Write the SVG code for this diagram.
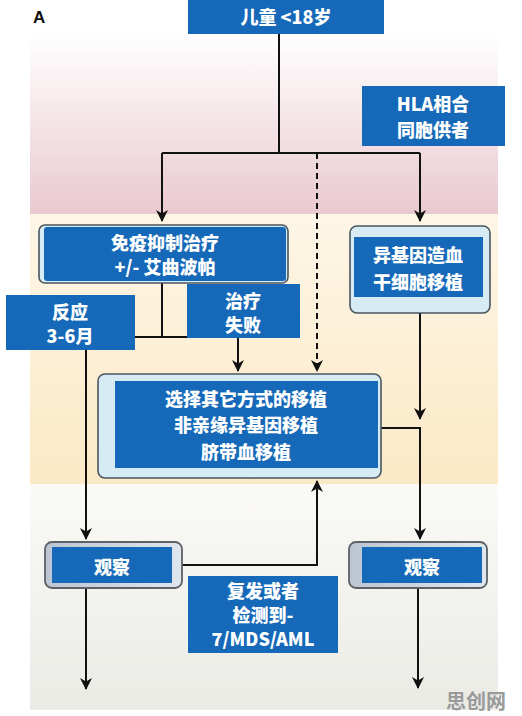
<svg xmlns="http://www.w3.org/2000/svg" width="522" height="716" viewBox="0 0 522 716">
<defs>
<linearGradient id="gTop" x1="0" y1="0" x2="0" y2="1">
<stop offset="0" stop-color="#ffffff"/>
<stop offset="1" stop-color="#e9c9cf"/>
</linearGradient>
<linearGradient id="gMid" x1="0" y1="0" x2="0" y2="1">
<stop offset="0" stop-color="#fdf6e6"/>
<stop offset="1" stop-color="#fbe9c6"/>
</linearGradient>
<linearGradient id="gBot" x1="0" y1="0" x2="0" y2="1">
<stop offset="0" stop-color="#fbfaf6"/>
<stop offset="1" stop-color="#ebebe6"/>
</linearGradient>
<linearGradient id="gObs" x1="0" y1="0" x2="1" y2="0">
<stop offset="0" stop-color="#bcc6d2"/>
<stop offset="1" stop-color="#dfe6ee"/>
</linearGradient>
<marker id="arrL" viewBox="0 0 12 12" refX="11" refY="6" markerWidth="12" markerHeight="12" markerUnits="userSpaceOnUse" orient="auto">
<path d="M0,0 L12,6 L0,12 L3.5,6 Z" fill="#111"/>
</marker>
</defs>
<style>
.blue{fill:#1669b8;}
.outer{fill:#d7ebf5;stroke:#4a5560;stroke-width:1.6;}
.obs{fill:url(#gObs);stroke:#5d6168;stroke-width:1.8;}
.t{font-family:"Noto Sans CJK SC","Noto Sans",sans-serif;font-weight:900;font-size:18px;fill:#ffffff;text-anchor:middle;dominant-baseline:central;}
.ln{fill:none;stroke:#111;stroke-width:2;}
</style>
<rect x="0" y="0" width="522" height="716" fill="#ffffff"/>
<rect x="30" y="34" width="468" height="180" fill="url(#gTop)"/>
<rect x="30" y="214" width="468" height="270" fill="url(#gMid)"/>
<rect x="30" y="484" width="468" height="226" fill="url(#gBot)"/>
<text x="33" y="17" font-family="Liberation Sans,Arial,sans-serif" font-weight="bold" font-size="17" fill="#111" dominant-baseline="central">A</text>

<g id="connectors">
<polyline class="ln" points="279,34 279,153"/>
<polyline class="ln" points="162,153 420,153"/>
<line class="ln" x1="162" y1="153" x2="162" y2="221" marker-end="url(#arrL)"/>
<line class="ln" x1="420" y1="153" x2="420" y2="221" marker-end="url(#arrL)"/>
<line class="ln" x1="317" y1="153" x2="317" y2="371" stroke-dasharray="6,4" marker-end="url(#arrL)"/>
<polyline class="ln" points="162,283 162,337"/>
<polyline class="ln" points="135,337 187,337"/>
<line class="ln" x1="238" y1="338" x2="238" y2="371" marker-end="url(#arrL)"/>
<line class="ln" x1="86" y1="350" x2="86" y2="539" marker-end="url(#arrL)"/>
<line class="ln" x1="420" y1="313" x2="420" y2="419" marker-end="url(#arrL)"/>
<polyline class="ln" points="381,428 420,428 420,539" marker-end="url(#arrL)"/>
<polyline class="ln" points="182,565 317,565 317,481" stroke="#333" marker-end="url(#arrL)"/>
<line class="ln" x1="86" y1="588" x2="86" y2="689" marker-end="url(#arrL)"/>
<line class="ln" x1="418" y1="588" x2="418" y2="688" marker-end="url(#arrL)"/>
</g>

<g id="node-child">
<rect class="blue" x="188" y="0" width="196" height="34"/>
<text class="t" x="286" y="16" font-size="20">儿童 &lt;18岁</text>
</g>

<g id="node-hla">
<rect class="blue" x="362" y="86" width="143" height="60"/>
<text class="t" x="433" y="103">HLA相合</text>
<text class="t" x="433" y="129">同胞供者</text>
</g>

<g id="node-ist">
<rect class="outer" x="39" y="225" width="249" height="58" rx="6"/>
<rect class="blue" x="44" y="227" width="242" height="54" rx="3"/>
<text class="t" x="165" y="242">免疫抑制治疗</text>
<text class="t" x="165" y="266">+/- 艾曲波帕</text>
</g>

<g id="node-hsct">
<rect class="outer" x="350" y="226" width="140" height="87" rx="7"/>
<rect class="blue" x="354" y="237" width="129" height="60"/>
<text class="t" x="418" y="254" font-size="20">异基因造血</text>
<text class="t" x="418" y="281" font-size="20">干细胞移植</text>
</g>

<g id="node-response">
<rect class="blue" x="6" y="295" width="129" height="55"/>
<text class="t" x="70" y="311">反应</text>
<text class="t" x="70" y="335">3-6月</text>
</g>

<g id="node-failure">
<rect class="blue" x="187" y="284" width="113" height="54"/>
<text class="t" x="243" y="300">治疗</text>
<text class="t" x="243" y="324">失败</text>
</g>

<g id="node-alt">
<rect class="outer" x="98" y="374" width="283" height="104" rx="7"/>
<rect class="blue" x="115" y="381" width="263" height="87"/>
<text class="t" x="246" y="398" font-size="20">选择其它方式的移植</text>
<text class="t" x="246" y="424" font-size="20">非亲缘异基因移植</text>
<text class="t" x="246" y="451" font-size="20">脐带血移植</text>
</g>

<g id="node-obs-left">
<rect class="obs" x="45" y="542" width="137" height="46" rx="7"/>
<rect class="blue" x="52" y="547" width="120" height="36"/>
<text class="t" x="112" y="566" font-size="20">观察</text>
</g>

<g id="node-obs-right">
<rect class="obs" x="349" y="542" width="138" height="46" rx="7"/>
<rect class="blue" x="362" y="547" width="120" height="36"/>
<text class="t" x="422" y="566" font-size="20">观察</text>
</g>

<g id="node-relapse">
<rect class="blue" x="188" y="576" width="150" height="77"/>
<text class="t" x="263" y="590" font-size="16.5">复发或者</text>
<text class="t" x="263" y="614" font-size="16.5">检测到-</text>
<text class="t" x="263" y="638" font-size="16.5">7/MDS/AML</text>
</g>

<text x="476" y="700" font-family="Noto Sans CJK SC,sans-serif" font-weight="bold" font-size="20" fill="#9a9a9a" text-anchor="middle" dominant-baseline="central">思创网</text>
</svg>
